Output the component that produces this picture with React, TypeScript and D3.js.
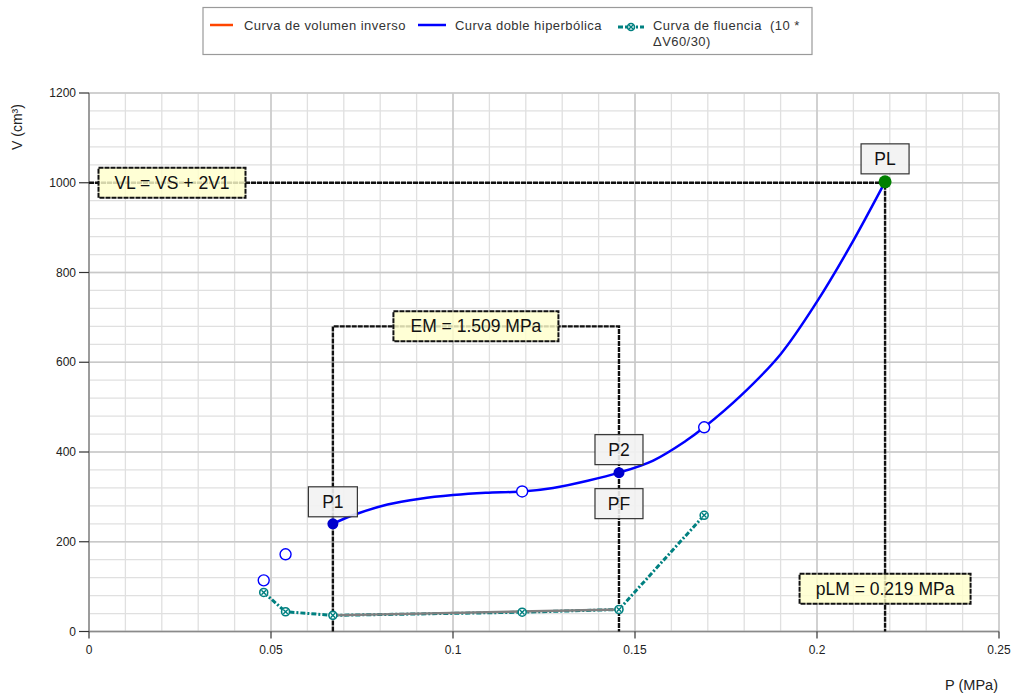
import React, { useEffect } from 'react';
import * as d3 from 'd3';

// Curva doble hiperbólica
const curveP = [0.067, 0.0725, 0.082, 0.091, 0.1, 0.109, 0.119, 0.1275, 0.137, 0.1456, 0.155, 0.164, 0.169, 0.179, 0.19, 0.2, 0.209, 0.2187];
const curveV = [240, 259, 283, 296, 304, 309, 312, 320, 336, 354, 381, 425, 455, 525, 618, 735, 857, 1002];

// measured points (open circles)
const measuredP = [0.048, 0.054, 0.119, 0.169];
const measuredV = [114, 172, 312, 455];

// Curva de fluencia (10 * ΔV60/30)
const creepP = [0.048, 0.054, 0.067, 0.119, 0.1456, 0.169];
const creepV = [87, 44, 36, 43, 49, 259];

// characteristic points
const p1 = { p: 0.067, v: 240 };
const p2 = { p: 0.1456, v: 354 };
const pf = { p: 0.1456, v: 49 };
const pl = { p: 0.2187, v: 1002 };
const vl = 1000;
const emTop = 680;
const pLMLabelV = 95;

const xTicks = [0, 0.05, 0.1, 0.15, 0.2, 0.25];
const yTicks = [0, 200, 400, 600, 800, 1000, 1200];

const legendItems = ['Curva de volumen inverso', 'Curva doble hiperbólica', 'Curva de fluencia \u00a0(10 *', 'ΔV60/30)'];

const FONT = '"Liberation Sans", Arial, sans-serif';

const margin = { top: 93, right: 14, bottom: 63.5, left: 89 };
const W = 1013;
const H = 695;

const BoxLabel: React.FC<{ cx: number; cy: number; w: number; text: string; note?: boolean }> = ({ cx, cy, w, text, note }) => (
  <g>
    <rect
      x={cx - w / 2}
      y={cy - 15}
      width={w}
      height={30}
      fill={note ? '#ffffcc' : '#f2f2f2'}
      fillOpacity={note ? 0.82 : 0.9}
      stroke={note ? '#111' : '#333'}
      strokeWidth={note ? 2 : 1.2}
      strokeDasharray={note ? '5,1' : undefined}
    />
    <text x={cx} y={cy + 6} textAnchor="middle" fontSize={17.5} fill="#111" fontFamily={FONT}>
      {text}
    </text>
  </g>
);

const XMarker: React.FC<{ x: number; y: number; r?: number }> = ({ x, y, r = 4 }) => (
  <g>
    <circle cx={x} cy={y} r={r} fill="#fff" stroke="#008080" strokeWidth={1.6} />
    <path d={`M${x - 2.3},${y - 2.3}L${x + 2.3},${y + 2.3}M${x - 2.3},${y + 2.3}L${x + 2.3},${y - 2.3}`} stroke="#008080" strokeWidth={1.4} />
  </g>
);

export default function App() {
  useEffect(() => {
    document.body.style.margin = '0';
  }, []);

  const x = d3.scaleLinear().domain([0, 0.25]).range([margin.left, W - margin.right]);
  const y = d3.scaleLinear().domain([0, 1200]).range([H - margin.bottom, margin.top]);

  const minorX = d3.range(0, 0.2501, 0.01);
  const minorY = d3.range(0, 1201, 40);

  const curveLine = d3
    .line<number>()
    .x((_, i) => x(curveP[i]))
    .y((d) => y(d))
    .curve(d3.curveCatmullRom.alpha(0.5));

  const creepLine = d3
    .line<number>()
    .x((_, i) => x(creepP[i]))
    .y((d) => y(d));

  const guide = { stroke: '#111', strokeWidth: 2.4, strokeDasharray: '5,1', fill: 'none' };

  return (
    <svg width={W} height={H} style={{ display: 'block', background: '#fff' }} fontFamily={FONT}>
      {/* grid */}
      <g>
        {minorX.map((t) => (
          <line key={'mx' + t} x1={x(t)} x2={x(t)} y1={y(0)} y2={y(1200)} stroke="#e0e0e0" strokeWidth={1.3} />
        ))}
        {minorY.map((t) => (
          <line key={'my' + t} x1={x(0)} x2={x(0.25)} y1={y(t)} y2={y(t)} stroke="#e0e0e0" strokeWidth={1.3} />
        ))}
        {xTicks.map((t) => (
          <line key={'Mx' + t} x1={x(t)} x2={x(t)} y1={y(0)} y2={y(1200)} stroke="#c8c8c8" strokeWidth={1.5} />
        ))}
        {yTicks.map((t) => (
          <line key={'My' + t} x1={x(0)} x2={x(0.25)} y1={y(t)} y2={y(t)} stroke="#c8c8c8" strokeWidth={1.5} />
        ))}
      </g>

      {/* axes */}
      <g>
        <line x1={x(0)} x2={x(0)} y1={y(0)} y2={y(1200)} stroke="#8a8a8a" strokeWidth={1.5} />
        <line x1={x(0)} x2={x(0.25)} y1={y(0)} y2={y(0)} stroke="#8a8a8a" strokeWidth={1.5} />
        {xTicks.map((t) => (
          <g key={'xt' + t}>
            <line x1={x(t)} x2={x(t)} y1={y(0)} y2={y(0) + 7} stroke="#333" strokeWidth={1.2} />
            <text x={x(t)} y={y(0) + 22} textAnchor="middle" fontSize={12} fill="#222">
              {d3.format('')(t)}
            </text>
          </g>
        ))}
        {yTicks.map((t) => (
          <g key={'yt' + t}>
            <line x1={x(0) - 10} x2={x(0)} y1={y(t)} y2={y(t)} stroke="#333" strokeWidth={1.2} />
            <text x={x(0) - 13} y={y(t) + 4} textAnchor="end" fontSize={12} fill="#222">
              {t}
            </text>
          </g>
        ))}
        <text transform={`translate(22,${y(1200) + 34}) rotate(-90)`} textAnchor="middle" fontSize={14} fill="#222">
          V (cm³)
        </text>
        <text x={W - 15} y={H - 5} textAnchor="end" fontSize={14.5} fill="#222">
          P (MPa)
        </text>
      </g>

      {/* guide lines */}
      <path d={`M${x(0)},${y(vl)}H${x(pl.p)}V${y(0)}`} {...guide} />
      <path d={`M${x(p1.p)},${y(0)}V${y(emTop)}H${x(p2.p)}V${y(0)}`} {...guide} />

      {/* creep curve */}
      <path d={creepLine(creepV) || ''} fill="none" stroke="#008080" strokeWidth={3} strokeDasharray="5,2,2,2" />
      <line x1={x(creepP[2])} y1={y(creepV[2])} x2={x(creepP[4])} y2={y(creepV[4])} stroke="#808080" strokeWidth={2.4} />
      {creepV.map((v, i) => (
        <XMarker key={'c' + i} x={x(creepP[i])} y={y(v)} />
      ))}

      {/* double hyperbolic curve */}
      <path d={curveLine(curveV) || ''} fill="none" stroke="#0000ff" strokeWidth={2.5} />
      {measuredV.map((v, i) => (
        <circle key={'m' + i} cx={x(measuredP[i])} cy={y(v)} r={5.5} fill="#fff" stroke="#0000ff" strokeWidth={1.4} />
      ))}
      <circle cx={x(p1.p)} cy={y(p1.v)} r={5.5} fill="#0000cc" />
      <circle cx={x(p2.p)} cy={y(p2.v)} r={5.5} fill="#0000cc" />
      <circle cx={x(pl.p)} cy={y(pl.v)} r={6.5} fill="#008000" />

      {/* labels */}
      <BoxLabel cx={x(0) + 83} cy={y(vl)} w={147} text="VL = VS + 2V1" note />
      <BoxLabel cx={(x(p1.p) + x(p2.p)) / 2} cy={y(emTop)} w={165} text="EM = 1.509 MPa" note />
      <BoxLabel cx={x(pl.p)} cy={y(pLMLabelV)} w={171} text="pLM = 0.219 MPa" note />
      <BoxLabel cx={x(p1.p)} cy={y(p1.v) - 22} w={49} text="P1" />
      <BoxLabel cx={x(p2.p)} cy={y(p2.v) - 23} w={48} text="P2" />
      <BoxLabel cx={x(pf.p)} cy={y(p2.v) + 31} w={48} text="PF" />
      <BoxLabel cx={x(pl.p)} cy={y(pl.v) - 23} w={48} text="PL" />

      {/* legend */}
      <g fontSize={13} fill="#333" letterSpacing={0.45}>
        <rect x={203} y={7.5} width={609} height={47} fill="#fff" stroke="#9a9a9a" strokeWidth={1.2} />
        <line x1={210} x2={233} y1={25} y2={25} stroke="#ff4500" strokeWidth={2.5} />
        <text x={244} y={29.5}>{legendItems[0]}</text>
        <line x1={418} x2={446} y1={25} y2={25} stroke="#0000ff" strokeWidth={2.5} />
        <text x={455} y={29.5}>{legendItems[1]}</text>
        <line x1={618} x2={644} y1={27} y2={27} stroke="#008080" strokeWidth={3} strokeDasharray="5,2,2,2" />
        <XMarker x={631} y={27} r={3.5} />
        <text x={653} y={29.5}>{legendItems[2]}</text>
        <text x={653} y={45.5}>{legendItems[3]}</text>
      </g>
    </svg>
  );
}
